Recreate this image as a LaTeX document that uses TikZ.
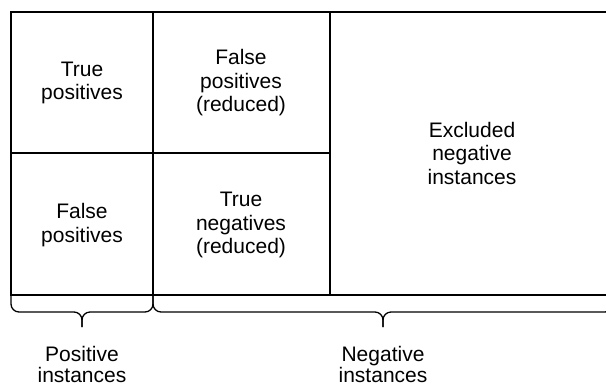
\documentclass[tikz,border=0pt]{standalone}
\usepackage{fontspec}
\setmainfont{Liberation Sans}
\begin{document}
\begin{tikzpicture}[x=1bp,y=-1bp,
  cellline/.style={line width=1.3bp, black},
  bracestyle/.style={line width=1.3bp, black, rounded corners=8bp},
  celltext/.style={align=center, font=\fontsize{21bp}{23.5bp}\selectfont, inner sep=0pt},
  labeltext/.style={align=center, font=\fontsize{21bp}{21.5bp}\selectfont, inner sep=0pt}]
\useasboundingbox (0,0) rectangle (606,387);
\clip (0,0) rectangle (606,387);
% grid
\draw[cellline] (11,12) rectangle (640,295);
\draw[cellline] (153,12) -- (153,295);
\draw[cellline] (330,12) -- (330,295);
\draw[cellline] (11,153) -- (330,153);
% cell texts
\node[celltext] (tp) at (82,83) {True\\positives};
\node[celltext] (fp) at (82,225) {False\\positives};
\node[celltext] (fpr) at (241,83) {False\\positives\\(reduced)};
\node[celltext] (tnr) at (241,225) {True\\negatives\\(reduced)};
\node[celltext] (ex) at (472,153) {Excluded\\negative\\instances};
% braces
\coordinate (pl) at (11,295);
\coordinate (pr) at (153,295);
\coordinate (pm) at (82,312);
\coordinate (pt) at (82,327);
\draw[bracestyle] (pl) |- (pm) -- (pt);
\draw[bracestyle] (pr) |- (pm) -- (pt);
\coordinate (nl) at (153,295);
\coordinate (nr) at (613,295);
\coordinate (nm) at (383,312);
\coordinate (nt) at (383,327);
\draw[bracestyle] (nl) |- (nm) -- (nt);
\draw[bracestyle] (nr) |- (nm) -- (nt);
% labels
\node[labeltext, anchor=south] (pos) at (82,383) {Positive\\instances};
\node[labeltext, anchor=south] (neg) at (383,383) {Negative\\instances};
\end{tikzpicture}
\end{document}
